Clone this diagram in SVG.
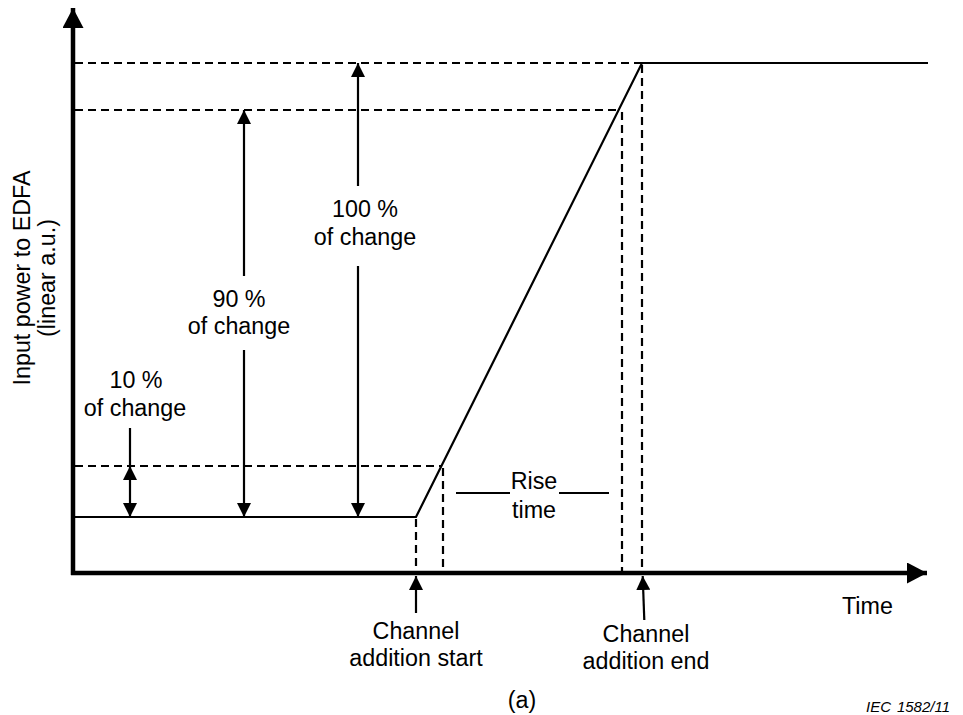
<svg xmlns="http://www.w3.org/2000/svg" width="963" height="715" viewBox="0 0 963 715">
  <style>
    .txt { font-family: "Liberation Sans", Arial, sans-serif; font-size: 23.3px; fill: #000; }
    .mid { text-anchor: middle; }
    .tag { font-family: "Liberation Sans", Arial, sans-serif; font-size: 15px; font-style: italic; fill: #000; }
    .axis { stroke: #000; stroke-width: 4.5; fill: none; }
    .solid { stroke: #000; stroke-width: 2.2; fill: none; }
    .dash { stroke: #000; stroke-width: 2.2; fill: none; stroke-dasharray: 8 5; }
    .dim { stroke: #000; stroke-width: 2.2; fill: none; }
  </style>
  <defs>
    <marker id="axisHead" markerUnits="userSpaceOnUse" viewBox="0 0 20 21" refX="20" refY="10.5" markerWidth="20" markerHeight="21" orient="auto">
      <path d="M0,0 L20,10.5 L0,21 Z" fill="#000"/>
    </marker>
    <marker id="dimHead" markerUnits="userSpaceOnUse" viewBox="0 0 14 14" refX="14" refY="7" markerWidth="14" markerHeight="14" orient="auto-start-reverse">
      <path d="M0,0 L14,7 L0,14 Z" fill="#000"/>
    </marker>
  </defs>

  <!-- axes -->
  <g id="axes">
    <line class="axis" x1="73" y1="575" x2="73" y2="8" marker-end="url(#axisHead)"/>
    <line class="axis" x1="71" y1="573" x2="927" y2="573" marker-end="url(#axisHead)"/>
  </g>

  <!-- input power step: low level, linear ramp, high level -->
  <g id="power-curve">
    <polyline class="solid" points="73,517 416,517 642,63 928,63"/>
  </g>

  <!-- dashed reference levels and time markers -->
  <g id="guides">
    <line class="dash" x1="75" y1="63" x2="642" y2="63"/>
    <line class="dash" x1="75" y1="110" x2="620" y2="110"/>
    <line class="dash" x1="75" y1="466" x2="441" y2="466"/>
    <line class="dash" x1="416" y1="519" x2="416" y2="571"/>
    <line class="dash" x1="443" y1="468" x2="443" y2="571"/>
    <line class="dash" x1="622" y1="112" x2="622" y2="571"/>
    <line class="dash" x1="642" y1="65" x2="642" y2="571"/>
  </g>

  <!-- change amplitude arrows -->
  <g id="connectors">
    <line class="dim" x1="130" y1="428" x2="130" y2="466"/>
    <line class="dim" x1="130" y1="466" x2="130" y2="517" marker-start="url(#dimHead)" marker-end="url(#dimHead)"/>
    <line class="dim" x1="244" y1="110" x2="244" y2="276" marker-start="url(#dimHead)"/>
    <line class="dim" x1="244" y1="350" x2="244" y2="517" marker-end="url(#dimHead)"/>
    <line class="dim" x1="358" y1="63" x2="358" y2="186" marker-start="url(#dimHead)"/>
    <line class="dim" x1="358" y1="266" x2="358" y2="517" marker-end="url(#dimHead)"/>
    <line class="dim" x1="456" y1="493" x2="510" y2="493"/>
    <line class="dim" x1="559" y1="493" x2="609" y2="493"/>
    <line class="dim" x1="416" y1="613" x2="416" y2="576" marker-end="url(#dimHead)"/>
    <line class="dim" x1="644.3" y1="620" x2="642.7" y2="576" marker-end="url(#dimHead)"/>
  </g>

  <g id="y-label">
    <text class="txt mid" transform="translate(30,278) rotate(-90)">Input power to EDFA</text>
    <text class="txt mid" transform="translate(55,278) rotate(-90)">(linear a.u.)</text>
  </g>
  <g id="label-10">
    <text class="txt mid" x="136" y="388">10 %</text>
    <text class="txt mid" x="135" y="416">of change</text>
  </g>
  <g id="label-90">
    <text class="txt mid" x="239" y="307">90 %</text>
    <text class="txt mid" x="239" y="334">of change</text>
  </g>
  <g id="label-100">
    <text class="txt mid" x="365" y="217">100 %</text>
    <text class="txt mid" x="365" y="245">of change</text>
  </g>
  <g id="label-rise">
    <text class="txt mid" x="534" y="489">Rise</text>
    <text class="txt mid" x="534" y="518">time</text>
  </g>
  <g id="label-time">
    <text class="txt" x="842" y="614">Time</text>
  </g>
  <g id="label-start">
    <text class="txt mid" x="416" y="639">Channel</text>
    <text class="txt mid" x="416" y="666">addition start</text>
  </g>
  <g id="label-end">
    <text class="txt mid" x="646" y="642">Channel</text>
    <text class="txt mid" x="646" y="669">addition end</text>
  </g>
  <g id="caption">
    <text class="txt mid" x="522" y="708">(a)</text>
    <text class="tag" x="866" y="712">IEC</text>
    <text class="tag" x="950" y="712" text-anchor="end">1582/11</text>
  </g>
</svg>
